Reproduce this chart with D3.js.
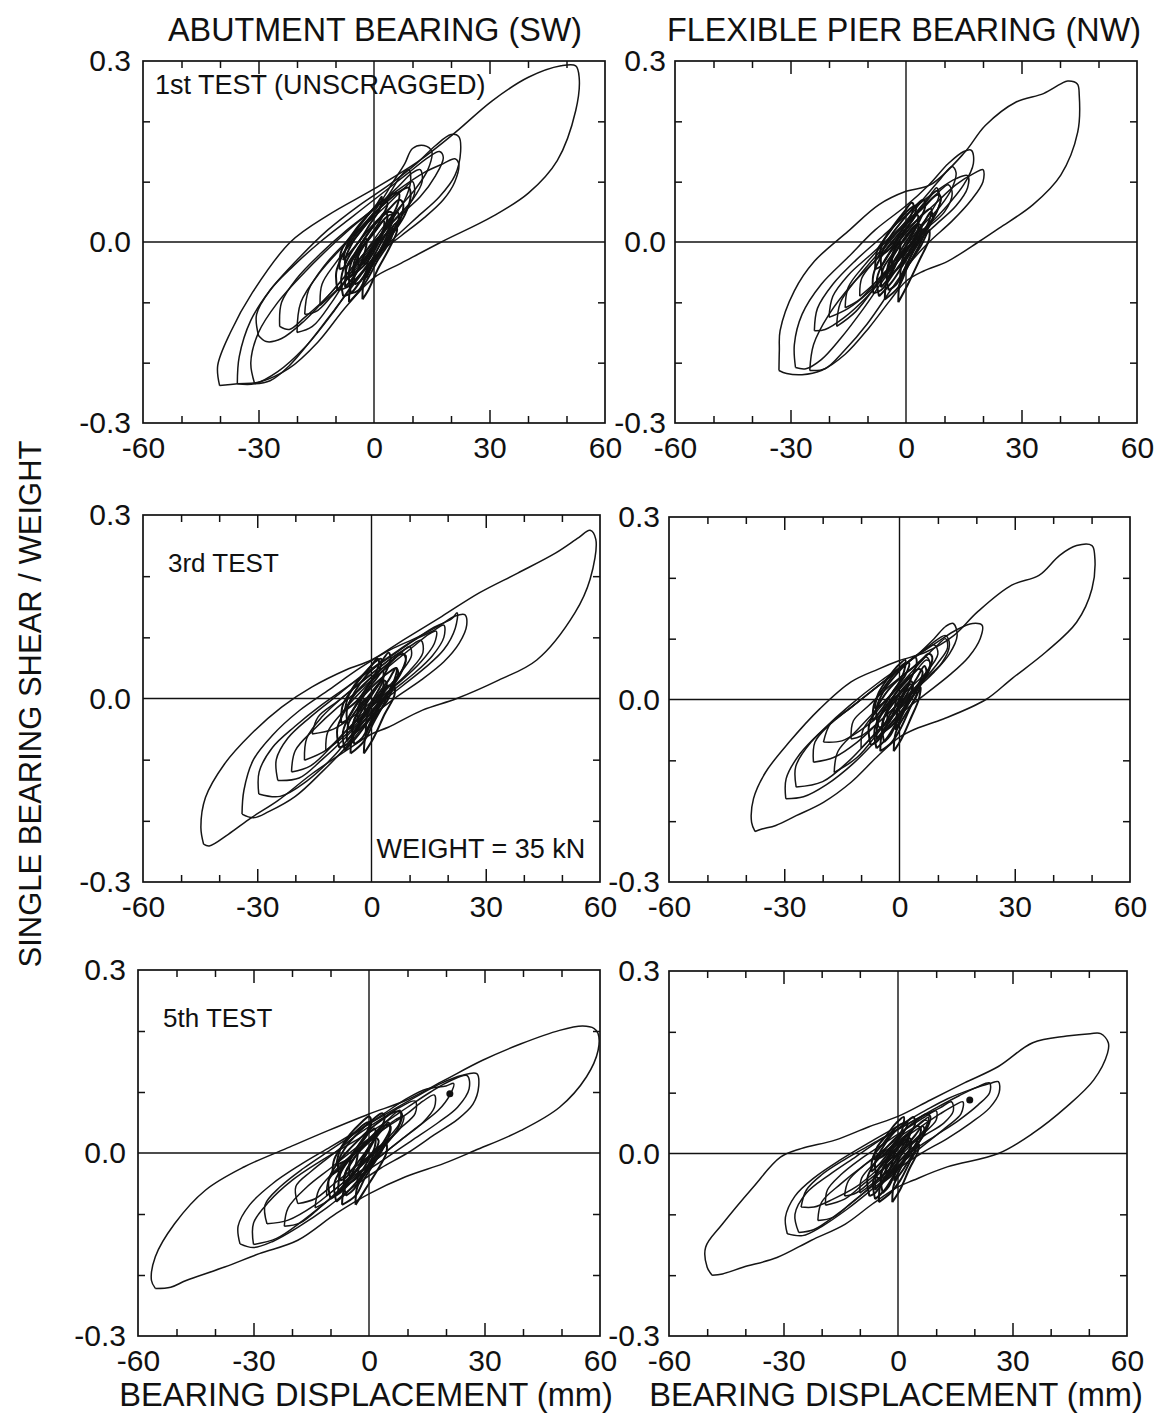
<!DOCTYPE html>
<html>
<head>
<meta charset="utf-8">
<script src="https://cdn.jsdelivr.net/npm/d3@7"></script>
<style>
  body { margin: 0; background: #fff; }
  svg { display: block; font-family: "Liberation Sans", Arial, Helvetica, sans-serif; }
  .tick text { font-size: 30px; fill: #111; }
  .loop { fill: none; stroke: #151515; stroke-width: 1.5; stroke-linejoin: round; }
  .core { fill: none; stroke: #111; stroke-width: 2; stroke-linejoin: round; }
</style>
</head>
<body>
<div id="chart"></div>
<script>
// ---- data (displacement in mm, shear / weight) ----

var xLabelTicks = [-60, -30, 0, 30, 60];
var xMinorTicks = [-50, -40, -20, -10, 10, 20, 40, 50];
var xMajorTicks = [-30, 30];
var yLabelTicks = [-0.3, 0, 0.3];
var yMinorTicks = [-0.2, -0.1, 0.1, 0.2];

var colTitles = ['ABUTMENT BEARING (SW)', 'FLEXIBLE PIER BEARING (NW)'];
var testNotes = ['1st TEST (UNSCRAGGED)', '3rd TEST', '5th TEST'];

// top left: 1st test, abutment
var tlOuter = [[-40.1,-0.238],[-40.6,-0.205],[-37.3,-0.15],[-31.6,-0.084],[-21.7,0],[-11.8,0.045],[0,0.088],[11.8,0.135],[21.2,0.182],[30.7,0.234],[40.1,0.273],[48.6,0.292],[52.4,0.292],[53.3,0.272],[52.4,0.218],[47.6,0.135],[40.1,0.081],[30.7,0.042],[17.5,0],[7.1,-0.035],[0,-0.059],[-7.1,-0.106],[-14.6,-0.166],[-22.2,-0.21],[-29.7,-0.232],[-35.4,-0.235],[-40.1,-0.238]];
var tlLoops = [
  [[-35.5,-0.235],[-35,-0.19],[-32,-0.13],[-27,-0.08],[-20,-0.03],[-12,0.02],[-4,0.06],[4,0.095],[11,0.13],[16,0.16],[20,0.178],[22,0.175],[22.5,0.15],[21,0.11],[17,0.075],[11,0.04],[5,0.005],[0,-0.025],[-5,-0.065],[-11,-0.12],[-18,-0.175],[-25,-0.215],[-31,-0.235],[-35.5,-0.235]],
  [[-31,-0.235],[-32,-0.2],[-30,-0.15],[-25,-0.1],[-18,-0.05],[-10,0.0],[-2,0.045],[6,0.085],[13,0.115],[18,0.13],[21,0.138],[22,0.13],[21,0.1],[18,0.07],[13,0.04],[7,0.01],[1,-0.02],[-4,-0.06],[-10,-0.11],[-16,-0.16],[-22,-0.205],[-27,-0.23],[-31,-0.235]],
  [[-30,-0.155],[-30.5,-0.12],[-27,-0.08],[-21,-0.04],[-14,0.0],[-6,0.04],[2,0.08],[9,0.115],[14,0.14],[17,0.15],[18,0.14],[16,0.11],[12,0.075],[6,0.04],[0,0.0],[-6,-0.045],[-12,-0.09],[-18,-0.13],[-24,-0.16],[-28,-0.165],[-30,-0.155]],
  [[-24.5,-0.14],[-24,-0.1],[-20,-0.06],[-14,-0.02],[-7,0.02],[0,0.055],[6,0.09],[10,0.115],[12,0.12],[12.5,0.1],[10,0.07],[5,0.035],[0,0.0],[-6,-0.045],[-12,-0.09],[-18,-0.125],[-22,-0.145],[-24.5,-0.14]],
  [[-18,-0.12],[-17,-0.08],[-13,-0.04],[-8,-0.005],[-2,0.03],[4,0.065],[8,0.09],[10,0.1],[10.5,0.08],[8,0.05],[4,0.02],[-1,-0.015],[-6,-0.055],[-11,-0.09],[-15,-0.115],[-18,-0.12]],
  [[-20,-0.15],[-19,-0.1],[-14,-0.05],[-7,0.0],[0,0.05],[5,0.1],[8,0.13],[10,0.155],[13,0.16],[15,0.15],[14,0.12],[11,0.09],[7,0.06],[3,0.03],[-1,-0.005],[-6,-0.05],[-11,-0.1],[-16,-0.14],[-20,-0.15]],
  [[-14,-0.105],[-13.5,-0.07],[-10,-0.035],[-5,0.005],[0,0.045],[4,0.08],[7,0.11],[9,0.12],[9.5,0.1],[8,0.07],[5,0.04],[1,0.005],[-4,-0.035],[-9,-0.075],[-14,-0.105]]
];
var tlCore = [
  [[-9.5,-0.08],[-9.8,-0.05],[-8,-0.02],[-5,0.01],[-1,0.04],[3,0.065],[7,0.085],[9,0.09],[9.5,0.075],[8,0.045],[5,0.015],[1,-0.02],[-3,-0.05],[-7,-0.075],[-9.5,-0.08]],
  [[-8,-0.09],[-8.5,-0.06],[-7,-0.03],[-4,0.0],[0,0.03],[4,0.055],[6.5,0.07],[7.5,0.065],[7,0.04],[4.5,0.01],[1,-0.025],[-3,-0.06],[-6,-0.085],[-8,-0.09]],
  [[-7,-0.06],[-7.5,-0.03],[-5.5,0.0],[-2,0.03],[2,0.06],[5,0.08],[6.5,0.08],[6,0.06],[3.5,0.03],[0,-0.005],[-3,-0.035],[-5.5,-0.055],[-7,-0.06]],
  [[-6,-0.085],[-6.5,-0.05],[-5,-0.02],[-2,0.01],[1,0.035],[4,0.05],[5,0.045],[4,0.02],[1.5,-0.015],[-1.5,-0.05],[-4,-0.08],[-6,-0.085]],
  [[-9,-0.045],[-8.5,-0.015],[-6,0.01],[-3,0.035],[0,0.055],[2.5,0.07],[3.5,0.065],[2,0.04],[-1,0.01],[-4,-0.015],[-7,-0.04],[-9,-0.045]],
  [[-5,-0.07],[-5,-0.04],[-3,-0.01],[0,0.015],[3,0.04],[4.5,0.045],[4,0.025],[1.5,-0.005],[-1,-0.035],[-3.5,-0.065],[-5,-0.07]],
  [[-4,-0.04],[-4,-0.015],[-2,0.01],[1,0.035],[3,0.05],[3.5,0.04],[2,0.015],[-0.5,-0.01],[-2.5,-0.035],[-4,-0.04]],
  [[-7.5,-0.075],[-7,-0.04],[-4.5,-0.015],[-2,0.005],[-2.5,-0.02],[-4.5,-0.05],[-7.5,-0.075]],
  [[-3,-0.095],[-2.5,-0.06],[0,-0.03],[3,0.0],[5.5,0.03],[6,0.02],[4,-0.01],[1,-0.045],[-1.5,-0.08],[-3,-0.095]],
  [[-6.5,-0.1],[-6,-0.07],[-3.5,-0.04],[0,-0.01],[3.5,0.015],[5,0.02],[4,0.0],[1,-0.03],[-2.5,-0.07],[-6.5,-0.1]],
  [[-8,-0.03],[-7,-0.005],[-4.5,0.02],[-1.5,0.045],[1,0.065],[2,0.075],[1.5,0.055],[-1,0.03],[-4,0.0],[-8,-0.03]],
  [[-5.5,-0.055],[-5,-0.03],[-2.5,-0.005],[0.5,0.02],[2.5,0.035],[2.5,0.02],[0.5,-0.01],[-2,-0.035],[-5.5,-0.055]],
  [[-2,-0.06],[-1.5,-0.03],[1,0.0],[4,0.03],[6,0.05],[6.5,0.04],[4.5,0.015],[1.5,-0.015],[-2,-0.06]]
];

// top right: 1st test, flexible pier
var trOuter = [[-33,-0.213],[-32.9,-0.18],[-32.7,-0.147],[-29,-0.081],[-23.8,-0.032],[-15,0.018],[-7,0.062],[0,0.084],[6.4,0.095],[15.3,0.149],[20.6,0.193],[28.6,0.232],[35.7,0.246],[40.2,0.262],[42,0.267],[44.5,0.262],[45,0.243],[44.6,0.182],[40.2,0.111],[33,0.062],[24.2,0.023],[18.8,0],[10.8,-0.032],[4.6,-0.048],[0,-0.065],[-4.3,-0.098],[-9.6,-0.142],[-15.8,-0.186],[-22,-0.213],[-27,-0.22],[-31,-0.218],[-33,-0.213]];
var trLoops = [
  [[-28.7,-0.208],[-29,-0.17],[-27,-0.12],[-22,-0.07],[-15,-0.025],[-8,0.02],[0,0.06],[6,0.095],[11,0.13],[15,0.15],[17,0.152],[17.5,0.13],[15,0.095],[10,0.055],[4,0.015],[0,-0.015],[-5,-0.055],[-11,-0.11],[-17,-0.16],[-22,-0.195],[-26,-0.21],[-28.7,-0.208]],
  [[-25,-0.213],[-24,-0.17],[-20,-0.12],[-14,-0.07],[-7,-0.025],[0,0.02],[7,0.06],[13,0.095],[18,0.115],[20,0.12],[20,0.1],[17,0.07],[12,0.035],[6,0.0],[1,-0.035],[-4,-0.08],[-10,-0.135],[-16,-0.18],[-21,-0.21],[-25,-0.213]],
  [[-23.8,-0.147],[-23,-0.11],[-19,-0.07],[-13,-0.03],[-6,0.01],[1,0.05],[8,0.085],[13,0.105],[16,0.11],[16,0.09],[13,0.06],[8,0.03],[2,-0.005],[-4,-0.045],[-10,-0.09],[-16,-0.125],[-21,-0.145],[-23.8,-0.147]],
  [[-20,-0.125],[-19,-0.09],[-15,-0.055],[-9,-0.02],[-3,0.015],[3,0.05],[8,0.08],[11,0.095],[12,0.08],[10,0.05],[5,0.02],[0,-0.015],[-5,-0.05],[-10,-0.085],[-15,-0.11],[-20,-0.125]],
  [[-15.8,-0.109],[-15,-0.075],[-11,-0.04],[-6,-0.005],[0,0.03],[5,0.065],[8,0.085],[9,0.07],[7,0.04],[3,0.01],[-2,-0.025],[-7,-0.06],[-12,-0.095],[-15.8,-0.109]],
  [[-18,-0.14],[-17,-0.1],[-12,-0.055],[-6,-0.01],[0,0.035],[5,0.075],[9,0.105],[12,0.125],[13,0.115],[12,0.09],[9,0.06],[4,0.025],[-1,-0.015],[-7,-0.065],[-13,-0.115],[-18,-0.14]],
  [[-12,-0.09],[-11.5,-0.06],[-8,-0.03],[-3,0.01],[2,0.045],[6,0.075],[8,0.09],[8.5,0.075],[6.5,0.05],[3,0.02],[-1,-0.015],[-6,-0.055],[-12,-0.09]]
];
var trCore = [
  [[-8.5,-0.085],[-8.5,-0.055],[-6.5,-0.025],[-3,0.005],[1,0.035],[5,0.06],[8,0.078],[9,0.075],[8,0.05],[5,0.02],[1,-0.015],[-3,-0.05],[-6.5,-0.08],[-8.5,-0.085]],
  [[-7,-0.09],[-7.5,-0.06],[-5.5,-0.03],[-2,0.0],[2,0.03],[5,0.05],[6.5,0.055],[6,0.035],[3.5,0.005],[0,-0.03],[-3.5,-0.065],[-7,-0.09]],
  [[-6,-0.055],[-6.5,-0.025],[-4.5,0.005],[-1,0.035],[2.5,0.06],[4.5,0.07],[5,0.06],[3.5,0.035],[0.5,0.005],[-2.5,-0.025],[-5,-0.05],[-6,-0.055]],
  [[-4.5,-0.08],[-5,-0.05],[-3,-0.02],[0,0.01],[3,0.03],[4,0.025],[2.5,-0.005],[0,-0.04],[-2.5,-0.07],[-4.5,-0.08]],
  [[-8,-0.045],[-7.5,-0.015],[-5,0.01],[-2,0.035],[1,0.055],[2.5,0.06],[2,0.04],[-1,0.015],[-4,-0.015],[-6.5,-0.04],[-8,-0.045]],
  [[-3.5,-0.045],[-3.5,-0.02],[-1.5,0.005],[1,0.03],[3,0.045],[3,0.03],[1,0.005],[-1.5,-0.025],[-3.5,-0.045]],
  [[-2,-0.1],[-1.5,-0.065],[1,-0.035],[4,-0.005],[6,0.02],[6,0.005],[3.5,-0.03],[0.5,-0.07],[-2,-0.1]],
  [[-6.5,-0.075],[-6,-0.045],[-3.5,-0.02],[-1.5,0.0],[-2,-0.025],[-4,-0.055],[-6.5,-0.075]],
  [[-5.5,-0.095],[-5,-0.065],[-2.5,-0.035],[1,-0.005],[4,0.02],[5,0.02],[3.5,-0.005],[0.5,-0.04],[-2,-0.075],[-5.5,-0.095]],
  [[-7,-0.025],[-6,0.0],[-3.5,0.025],[-0.5,0.05],[1.5,0.065],[2,0.06],[1,0.04],[-1.5,0.015],[-4,-0.01],[-7,-0.025]],
  [[-5,-0.06],[-4.5,-0.035],[-2,-0.01],[1,0.015],[3,0.03],[3,0.015],[1,-0.015],[-1.5,-0.04],[-5,-0.06]],
  [[-1.5,-0.06],[-1,-0.03],[1.5,0.0],[4.5,0.03],[6.5,0.05],[7,0.04],[5,0.015],[2,-0.015],[-1.5,-0.06]]
];

// middle left: 3rd test, abutment
var mlOuter = [[-44.1,-0.238],[-44.8,-0.211],[-43.6,-0.162],[-38.6,-0.107],[-31.6,-0.058],[-23.6,-0.014],[-15.6,0.019],[-6.6,0.047],[0,0.063],[8.4,0.096],[18.4,0.134],[28.4,0.173],[38.4,0.205],[48.4,0.238],[54.4,0.263],[57.4,0.275],[58.9,0.26],[57.4,0.195],[53.4,0.14],[43.4,0.063],[33.4,0.03],[22.4,0],[13.4,-0.019],[4.4,-0.047],[0,-0.058],[-6.6,-0.085],[-15.6,-0.123],[-24.6,-0.167],[-31.6,-0.195],[-37.6,-0.222],[-42.6,-0.241],[-44.1,-0.238]];
var mlLoops = [
  [[-34,-0.189],[-33.5,-0.15],[-31,-0.1],[-26,-0.06],[-19,-0.02],[-11,0.015],[-3,0.05],[5,0.08],[12,0.1],[18,0.12],[22,0.135],[24.5,0.137],[25,0.12],[23,0.09],[19,0.06],[13,0.03],[6,0.0],[0,-0.03],[-6,-0.075],[-13,-0.12],[-20,-0.16],[-27,-0.185],[-31,-0.195],[-34,-0.189]],
  [[-29.6,-0.156],[-29.5,-0.12],[-26,-0.08],[-20,-0.045],[-13,-0.01],[-5,0.025],[3,0.06],[10,0.09],[16,0.115],[21,0.13],[22.5,0.14],[22,0.115],[19,0.08],[14,0.05],[8,0.02],[2,-0.01],[-4,-0.05],[-10,-0.095],[-17,-0.135],[-24,-0.16],[-29.6,-0.156]],
  [[-24.6,-0.134],[-25,-0.1],[-22,-0.065],[-16,-0.03],[-9,0.005],[-2,0.04],[5,0.07],[11,0.095],[16,0.11],[19,0.12],[19,0.1],[16,0.07],[11,0.04],[5,0.01],[-1,-0.025],[-7,-0.065],[-13,-0.1],[-19,-0.13],[-24.6,-0.134]],
  [[-17.6,-0.101],[-17,-0.065],[-13,-0.03],[-7,0.005],[-1,0.035],[5,0.065],[10,0.085],[13,0.095],[13.5,0.075],[10,0.045],[5,0.015],[-1,-0.02],[-7,-0.055],[-12,-0.085],[-17.6,-0.101]],
  [[-15.6,-0.058],[-14,-0.03],[-9,-0.005],[-3,0.025],[3,0.055],[8,0.075],[9,0.06],[6,0.03],[1,0.0],[-5,-0.03],[-10,-0.05],[-15.6,-0.058]],
  [[-21,-0.12],[-20,-0.085],[-15,-0.05],[-9,-0.015],[-2,0.02],[5,0.055],[11,0.085],[15,0.105],[17,0.11],[16.5,0.09],[13,0.06],[8,0.03],[2,0.0],[-4,-0.035],[-10,-0.075],[-16,-0.11],[-21,-0.12]],
  [[-12,-0.085],[-11.5,-0.055],[-8,-0.025],[-3,0.01],[2,0.04],[7,0.07],[10,0.085],[10.5,0.07],[8,0.045],[4,0.015],[-1,-0.02],[-6,-0.055],[-12,-0.085]]
];
var mlCore = [
  [[-8.5,-0.08],[-9,-0.05],[-7,-0.02],[-4,0.01],[0,0.035],[4,0.055],[7.5,0.072],[9,0.07],[8,0.045],[5,0.015],[1,-0.015],[-3,-0.045],[-6.5,-0.075],[-8.5,-0.08]],
  [[-7,-0.085],[-7.5,-0.055],[-5.5,-0.025],[-2,0.005],[2,0.03],[5,0.045],[6.5,0.05],[6,0.03],[3.5,0.0],[0,-0.03],[-3.5,-0.06],[-7,-0.085]],
  [[-6,-0.05],[-6.5,-0.02],[-4.5,0.01],[-1,0.04],[2.5,0.06],[4.5,0.075],[5,0.065],[3.5,0.04],[0.5,0.01],[-2.5,-0.02],[-5,-0.045],[-6,-0.05]],
  [[-4.5,-0.075],[-5,-0.045],[-3,-0.015],[0,0.01],[3,0.03],[4,0.025],[2.5,0.0],[0,-0.035],[-2.5,-0.065],[-4.5,-0.075]],
  [[-8,-0.04],[-7.5,-0.01],[-5,0.015],[-2,0.04],[1,0.06],[2.5,0.065],[2,0.045],[-1,0.02],[-4,-0.01],[-6.5,-0.035],[-8,-0.04]],
  [[-3.5,-0.04],[-3.5,-0.015],[-1.5,0.01],[1,0.03],[3,0.045],[3,0.03],[1,0.005],[-1.5,-0.02],[-3.5,-0.04]],
  [[-2,-0.09],[-1.5,-0.06],[1,-0.03],[4,-0.005],[6,0.02],[6,0.005],[3.5,-0.025],[0.5,-0.065],[-2,-0.09]],
  [[-6.5,-0.07],[-6,-0.04],[-3.5,-0.015],[-1.5,0.0],[-2,-0.025],[-4,-0.05],[-6.5,-0.07]],
  [[-5.5,-0.09],[-5,-0.06],[-2.5,-0.035],[1,-0.005],[4,0.02],[5,0.02],[3.5,-0.005],[0.5,-0.04],[-2,-0.07],[-5.5,-0.09]],
  [[-7,-0.02],[-6,0.005],[-3.5,0.03],[-0.5,0.05],[1.5,0.065],[2,0.06],[1,0.04],[-1.5,0.015],[-4,-0.005],[-7,-0.02]],
  [[-5,-0.06],[-4.5,-0.035],[-2,-0.01],[1,0.015],[3,0.03],[3,0.015],[1,-0.015],[-1.5,-0.04],[-5,-0.06]],
  [[-1.5,-0.055],[-1,-0.025],[1.5,0.005],[4.5,0.03],[6.5,0.05],[7,0.04],[5,0.015],[2,-0.015],[-1.5,-0.055]]
];

// middle right: 3rd test, flexible pier
var mrOuter = [[-37.6,-0.217],[-38.5,-0.202],[-38,-0.163],[-34.9,-0.12],[-28.7,-0.07],[-20.7,-0.015],[-12.6,0.029],[-5.5,0.05],[0,0.064],[6.9,0.078],[14.1,0.105],[20.3,0.144],[29.2,0.188],[36.3,0.204],[41.7,0.237],[46.1,0.253],[50.1,0.253],[50.8,0.237],[50.1,0.182],[46.1,0.127],[38.1,0.078],[29.2,0.034],[22.5,0],[11.4,-0.032],[4.3,-0.048],[0,-0.062],[-5.5,-0.092],[-12.6,-0.136],[-19.8,-0.169],[-26.9,-0.191],[-32.2,-0.207],[-35.8,-0.213],[-37.6,-0.217]];
var mrLoops = [
  [[-29.6,-0.163],[-29.5,-0.13],[-26,-0.09],[-20,-0.05],[-13,-0.01],[-5,0.03],[3,0.065],[10,0.095],[15,0.115],[19,0.125],[21.5,0.122],[21,0.1],[18,0.07],[13,0.04],[7,0.01],[1,-0.02],[-5,-0.06],[-12,-0.105],[-19,-0.14],[-25,-0.16],[-29.6,-0.163]],
  [[-26.9,-0.144],[-27,-0.11],[-23,-0.07],[-17,-0.035],[-10,0.0],[-3,0.035],[4,0.07],[9,0.1],[12,0.12],[14,0.125],[15,0.105],[13,0.075],[9,0.045],[4,0.015],[-1,-0.02],[-7,-0.06],[-13,-0.1],[-20,-0.135],[-26.9,-0.144]],
  [[-22.4,-0.103],[-22,-0.07],[-18,-0.04],[-12,-0.01],[-5,0.025],[2,0.06],[8,0.09],[12,0.105],[13,0.09],[11,0.06],[6,0.03],[1,0.0],[-5,-0.035],[-11,-0.07],[-17,-0.095],[-22.4,-0.103]],
  [[-19.8,-0.07],[-18,-0.04],[-13,-0.015],[-7,0.015],[-1,0.045],[5,0.075],[9,0.09],[10,0.075],[7,0.045],[2,0.015],[-4,-0.02],[-10,-0.05],[-15,-0.068],[-19.8,-0.07]],
  [[-12.6,-0.065],[-12,-0.035],[-8,-0.01],[-3,0.02],[3,0.05],[7,0.07],[8,0.055],[5,0.025],[0,-0.005],[-5,-0.035],[-10,-0.06],[-12.6,-0.065]],
  [[-17,-0.12],[-16,-0.085],[-11,-0.05],[-5,-0.01],[1,0.03],[6,0.065],[10,0.09],[12,0.1],[12.5,0.085],[10,0.06],[6,0.03],[1,-0.005],[-5,-0.05],[-11,-0.095],[-17,-0.12]],
  [[-10,-0.08],[-9.5,-0.05],[-6,-0.02],[-1,0.015],[4,0.045],[7,0.065],[8,0.06],[6,0.035],[2,0.005],[-3,-0.035],[-10,-0.08]]
];
var mrCore = [
  [[-7.5,-0.075],[-8,-0.045],[-6,-0.015],[-3,0.015],[1,0.04],[5,0.06],[7.5,0.075],[8.5,0.07],[7.5,0.045],[4.5,0.015],[1,-0.015],[-3,-0.045],[-6,-0.07],[-7.5,-0.075]],
  [[-6,-0.08],[-6.5,-0.05],[-4.5,-0.02],[-1,0.01],[2.5,0.035],[5,0.05],[6,0.045],[5,0.025],[2.5,-0.005],[-0.5,-0.035],[-3.5,-0.065],[-6,-0.08]],
  [[-5.5,-0.045],[-6,-0.015],[-4,0.015],[-1,0.04],[2,0.06],[4,0.07],[4.5,0.06],[3,0.035],[0.5,0.005],[-2.5,-0.025],[-4.5,-0.045],[-5.5,-0.045]],
  [[-4,-0.07],[-4.5,-0.04],[-2.5,-0.01],[0.5,0.015],[3,0.03],[3.5,0.02],[2,-0.005],[-0.5,-0.035],[-2.5,-0.06],[-4,-0.07]],
  [[-7,-0.035],[-6.5,-0.005],[-4,0.02],[-1,0.045],[1.5,0.06],[2.5,0.06],[1.5,0.04],[-1.5,0.015],[-4.5,-0.015],[-7,-0.035]],
  [[-3,-0.04],[-3,-0.015],[-1,0.01],[1.5,0.03],[3,0.04],[2.5,0.025],[0.5,0.0],[-1.5,-0.025],[-3,-0.04]],
  [[-1.5,-0.085],[-1,-0.055],[1.5,-0.025],[4,0.0],[5.5,0.02],[5,0.0],[3,-0.03],[0.5,-0.065],[-1.5,-0.085]],
  [[-6,-0.065],[-5.5,-0.035],[-3,-0.01],[-1,0.005],[-1.5,-0.02],[-3.5,-0.045],[-6,-0.065]],
  [[-5,-0.085],[-4.5,-0.055],[-2,-0.03],[1.5,-0.005],[4,0.015],[4.5,0.01],[3,-0.01],[0.5,-0.045],[-2,-0.07],[-5,-0.085]],
  [[-6.5,-0.015],[-5.5,0.01],[-3,0.035],[-0.5,0.055],[1.5,0.065],[1.5,0.055],[0.5,0.035],[-2,0.01],[-4,-0.005],[-6.5,-0.015]],
  [[-4.5,-0.055],[-4,-0.03],[-1.5,-0.005],[1,0.015],[3,0.025],[3,0.01],[1,-0.015],[-1.5,-0.04],[-4.5,-0.055]],
  [[-1,-0.05],[-0.5,-0.02],[2,0.01],[4.5,0.035],[6.5,0.055],[7,0.045],[5,0.02],[2,-0.01],[-1,-0.05]]
];

// bottom left: 5th test, abutment
var blOuter = [[-55.5,-0.222],[-56.5,-0.209],[-55.5,-0.17],[-50.5,-0.116],[-42.5,-0.061],[-32.5,-0.023],[-20.5,0.01],[-10.5,0.037],[0,0.064],[9.5,0.086],[19.5,0.119],[29.5,0.152],[39.5,0.179],[49.5,0.201],[55.5,0.208],[58.5,0.204],[59.5,0.196],[59.5,0.168],[56.5,0.125],[49.5,0.075],[39.5,0.037],[27.5,0.004],[19.5,-0.017],[9.5,-0.039],[0,-0.067],[-8.5,-0.099],[-18.5,-0.143],[-28.5,-0.165],[-37.5,-0.187],[-47.5,-0.209],[-51.5,-0.22],[-55.5,-0.222]];
var blLoops = [
  [[-33.5,-0.149],[-34,-0.12],[-31,-0.085],[-25,-0.05],[-18,-0.02],[-10,0.01],[-2,0.04],[6,0.07],[13,0.095],[19,0.115],[24,0.127],[28,0.13],[28.5,0.11],[27,0.08],[23,0.055],[17,0.03],[10,0.0],[3,-0.025],[-4,-0.055],[-11,-0.09],[-18,-0.12],[-25,-0.145],[-30,-0.155],[-33.5,-0.149]],
  [[-30,-0.15],[-30,-0.115],[-26,-0.08],[-20,-0.045],[-13,-0.015],[-5,0.015],[3,0.045],[10,0.075],[16,0.1],[21,0.118],[25.5,0.127],[26,0.105],[23,0.075],[18,0.05],[11,0.02],[4,-0.01],[-3,-0.04],[-10,-0.075],[-17,-0.11],[-24,-0.14],[-30,-0.15]],
  [[-26.5,-0.116],[-27,-0.085],[-23,-0.055],[-17,-0.025],[-10,0.005],[-3,0.035],[4,0.065],[10,0.09],[15,0.105],[20,0.11],[22,0.114],[21,0.095],[18,0.07],[12,0.04],[6,0.01],[0,-0.02],[-7,-0.05],[-14,-0.085],[-21,-0.11],[-26.5,-0.116]],
  [[-18.5,-0.083],[-19,-0.055],[-15,-0.03],[-9,0.0],[-3,0.03],[3,0.055],[8,0.075],[12,0.085],[12,0.065],[8,0.04],[3,0.01],[-3,-0.02],[-9,-0.05],[-14,-0.075],[-18.5,-0.083]],
  [[-14,-0.09],[-13,-0.06],[-9,-0.03],[-4,0.0],[1,0.03],[5,0.055],[8,0.07],[8,0.05],[5,0.025],[0,-0.005],[-5,-0.04],[-10,-0.075],[-14,-0.09]],
  [[-22,-0.12],[-21,-0.09],[-16,-0.055],[-10,-0.025],[-3,0.01],[4,0.04],[10,0.065],[14,0.085],[17,0.095],[17,0.075],[14,0.05],[8,0.02],[2,-0.01],[-5,-0.045],[-12,-0.085],[-18,-0.115],[-22,-0.12]],
  [[-11,-0.07],[-10.5,-0.045],[-7,-0.02],[-2,0.01],[3,0.035],[7,0.055],[9,0.06],[8,0.04],[4,0.015],[-1,-0.015],[-6,-0.045],[-11,-0.07]]
];
var blCore = [
  [[-10,-0.075],[-10.5,-0.045],[-8,-0.015],[-4.5,0.01],[-0.5,0.035],[3.5,0.055],[7,0.068],[8.5,0.065],[7.5,0.04],[4.5,0.015],[0.5,-0.015],[-3.5,-0.04],[-7.5,-0.065],[-10,-0.075]],
  [[-8.5,-0.08],[-9,-0.05],[-7,-0.025],[-3.5,0.0],[0.5,0.025],[4,0.045],[5.5,0.045],[5,0.025],[2.5,0.0],[-1,-0.03],[-5,-0.06],[-8.5,-0.08]],
  [[-7.5,-0.045],[-8,-0.015],[-6,0.01],[-2.5,0.035],[1,0.055],[3.5,0.065],[4,0.055],[2.5,0.035],[-0.5,0.005],[-3.5,-0.02],[-6,-0.04],[-7.5,-0.045]],
  [[-6,-0.07],[-6.5,-0.04],[-4.5,-0.015],[-1.5,0.01],[1.5,0.025],[2.5,0.02],[1,-0.005],[-1.5,-0.035],[-4,-0.06],[-6,-0.07]],
  [[-9.5,-0.035],[-9,-0.01],[-6.5,0.015],[-3.5,0.035],[-0.5,0.05],[0.5,0.05],[-0.5,0.03],[-3.5,0.005],[-6.5,-0.02],[-9.5,-0.035]],
  [[-5,-0.04],[-5,-0.015],[-3,0.01],[-0.5,0.03],[1.5,0.04],[1.5,0.025],[-0.5,0.0],[-3,-0.025],[-5,-0.04]],
  [[-3.5,-0.085],[-3,-0.055],[-0.5,-0.03],[2.5,-0.005],[4.5,0.015],[4.5,0.0],[2,-0.03],[-1,-0.06],[-3.5,-0.085]],
  [[-8,-0.065],[-7.5,-0.035],[-5,-0.01],[-3,0.005],[-3.5,-0.02],[-5.5,-0.045],[-8,-0.065]],
  [[-7,-0.085],[-6.5,-0.06],[-4,-0.035],[-0.5,-0.01],[2.5,0.01],[3.5,0.01],[2,-0.01],[-1,-0.04],[-3.5,-0.07],[-7,-0.085]],
  [[-8.5,-0.02],[-7.5,0.005],[-5,0.03],[-2,0.05],[0,0.06],[0.5,0.055],[-0.5,0.035],[-3,0.01],[-5.5,-0.01],[-8.5,-0.02]],
  [[-6.5,-0.055],[-6,-0.03],[-3.5,-0.005],[-0.5,0.015],[1.5,0.025],[1.5,0.01],[-0.5,-0.015],[-3,-0.04],[-6.5,-0.055]],
  [[-3,-0.05],[-2.5,-0.02],[0,0.01],[3,0.035],[5,0.05],[5.5,0.04],[3.5,0.015],[0.5,-0.015],[-3,-0.05]]
];
var blMarks = [[21,0.097]];

// bottom right: 5th test, flexible pier
var brOuter = [[-48.7,-0.2],[-50,-0.187],[-50.4,-0.154],[-46,-0.116],[-37.9,-0.055],[-30.8,-0.006],[-25.4,0.008],[-16.5,0.022],[-7.6,0.044],[0,0.061],[8.5,0.088],[17.4,0.116],[26.3,0.143],[35.3,0.182],[44.2,0.193],[50.4,0.197],[53.1,0.197],[55.1,0.182],[54.9,0.165],[51.3,0.121],[44.2,0.077],[35.3,0.033],[26.3,0],[12.9,-0.022],[4,-0.044],[0,-0.055],[-6.7,-0.083],[-13.8,-0.116],[-22.8,-0.143],[-31.7,-0.171],[-40.6,-0.187],[-46,-0.198],[-48.7,-0.2]];
var brLoops = [
  [[-29,-0.132],[-29.5,-0.105],[-27,-0.07],[-22,-0.04],[-15,-0.01],[-7,0.02],[0,0.045],[7,0.07],[13,0.09],[19,0.105],[24,0.115],[26.3,0.118],[26.5,0.1],[24,0.075],[19,0.05],[13,0.025],[6,0.0],[0,-0.025],[-6,-0.055],[-13,-0.09],[-20,-0.12],[-25,-0.135],[-29,-0.132]],
  [[-26,-0.13],[-27,-0.1],[-24,-0.065],[-18,-0.035],[-11,-0.005],[-4,0.025],[3,0.05],[10,0.075],[16,0.095],[21,0.11],[24,0.116],[24,0.1],[21,0.08],[16,0.055],[10,0.03],[4,0.005],[-2,-0.025],[-9,-0.065],[-16,-0.1],[-22,-0.125],[-26,-0.13]],
  [[-25.4,-0.088],[-24,-0.06],[-20,-0.035],[-14,-0.01],[-7,0.015],[0,0.04],[6,0.06],[11,0.075],[14,0.085],[14.5,0.07],[12,0.05],[7,0.03],[1,0.005],[-5,-0.025],[-11,-0.055],[-17,-0.075],[-22,-0.088],[-25.4,-0.088]],
  [[-19,-0.085],[-18.5,-0.06],[-15,-0.035],[-10,-0.01],[-4,0.015],[2,0.04],[7,0.06],[10,0.07],[10,0.055],[7,0.035],[2,0.01],[-3,-0.02],[-9,-0.05],[-14,-0.075],[-19,-0.085]],
  [[-14,-0.07],[-13,-0.045],[-9,-0.02],[-4,0.005],[1,0.03],[6,0.05],[8,0.06],[7,0.04],[3,0.015],[-2,-0.015],[-7,-0.045],[-11,-0.065],[-14,-0.07]],
  [[-21,-0.11],[-20,-0.08],[-15,-0.05],[-9,-0.02],[-2,0.01],[5,0.04],[11,0.065],[15,0.08],[17,0.085],[16.5,0.065],[13,0.045],[8,0.02],[2,-0.01],[-5,-0.045],[-12,-0.08],[-17,-0.105],[-21,-0.11]],
  [[-10,-0.065],[-9.5,-0.04],[-6,-0.015],[-1,0.015],[4,0.04],[7,0.055],[8,0.05],[6,0.03],[2,0.005],[-3,-0.03],[-10,-0.065]]
];
var brCore = [
  [[-7.5,-0.07],[-8,-0.04],[-6,-0.015],[-3,0.01],[1,0.035],[5,0.055],[7.5,0.065],[8.5,0.06],[7.5,0.04],[4.5,0.01],[1,-0.015],[-3,-0.04],[-6,-0.065],[-7.5,-0.07]],
  [[-6,-0.075],[-6.5,-0.045],[-4.5,-0.02],[-1,0.005],[2.5,0.03],[5,0.045],[6,0.04],[5,0.02],[2.5,-0.005],[-0.5,-0.03],[-3.5,-0.06],[-6,-0.075]],
  [[-5.5,-0.04],[-6,-0.015],[-4,0.01],[-1,0.035],[2,0.05],[4,0.06],[4.5,0.05],[3,0.03],[0.5,0.005],[-2.5,-0.02],[-4.5,-0.04],[-5.5,-0.04]],
  [[-4,-0.065],[-4.5,-0.035],[-2.5,-0.01],[0.5,0.015],[3,0.025],[3.5,0.015],[2,-0.005],[-0.5,-0.03],[-2.5,-0.055],[-4,-0.065]],
  [[-7,-0.03],[-6.5,-0.005],[-4,0.015],[-1,0.04],[1.5,0.05],[2.5,0.05],[1.5,0.035],[-1.5,0.01],[-4.5,-0.015],[-7,-0.03]],
  [[-3,-0.035],[-3,-0.01],[-1,0.01],[1.5,0.025],[3,0.035],[2.5,0.02],[0.5,0.0],[-1.5,-0.02],[-3,-0.035]],
  [[-1.5,-0.08],[-1,-0.05],[1.5,-0.025],[4,0.0],[5.5,0.015],[5,0.0],[3,-0.025],[0.5,-0.06],[-1.5,-0.08]],
  [[-6,-0.06],[-5.5,-0.03],[-3,-0.01],[-1,0.005],[-1.5,-0.015],[-3.5,-0.04],[-6,-0.06]],
  [[-5,-0.08],[-4.5,-0.05],[-2,-0.03],[1.5,-0.005],[4,0.01],[4.5,0.005],[3,-0.015],[0.5,-0.045],[-2,-0.065],[-5,-0.08]],
  [[-6.5,-0.01],[-5.5,0.01],[-3,0.03],[-0.5,0.05],[1.5,0.06],[1.5,0.05],[0.5,0.03],[-2,0.01],[-4,-0.005],[-6.5,-0.01]],
  [[-4.5,-0.05],[-4,-0.025],[-1.5,-0.005],[1,0.015],[3,0.02],[3,0.005],[1,-0.015],[-1.5,-0.035],[-4.5,-0.05]],
  [[-1,-0.045],[-0.5,-0.02],[2,0.01],[4.5,0.03],[6.5,0.045],[7,0.035],[5,0.015],[2,-0.01],[-1,-0.045]]
];
var brMarks = [[18.8,0.088]];

// ---- layout ----

var width = 1155;
var height = 1418;

var svg = d3.select('#chart')
    .append('svg')
    .attr('width', width)
    .attr('height', height);

svg.append('rect')
    .attr('width', width)
    .attr('height', height)
    .attr('fill', '#fff');

// each panel frame as scanned (slightly uneven)
var panels = [
    { col: 0, left: 143, right: 605, top: 61, bottom: 423, outer: tlOuter, loops: tlLoops, core: tlCore, marks: [], note: 0 },
    { col: 1, left: 675, right: 1137, top: 61, bottom: 423, outer: trOuter, loops: trLoops, core: trCore, marks: [] },
    { col: 0, left: 143, right: 600, top: 515, bottom: 882, outer: mlOuter, loops: mlLoops, core: mlCore, marks: [], note: 1, weight: true },
    { col: 1, left: 669, right: 1130, top: 517, bottom: 882, outer: mrOuter, loops: mrLoops, core: mrCore, marks: [] },
    { col: 0, left: 138, right: 600, top: 970, bottom: 1336, outer: blOuter, loops: blLoops, core: blCore, marks: blMarks, note: 2 },
    { col: 1, left: 669, right: 1127, top: 971, bottom: 1336, outer: brOuter, loops: brLoops, core: brCore, marks: brMarks }
];

function noDomain(g) {
    g.select('.domain').remove();
}

panels.forEach(function(p) {

    var x_scale = d3.scaleLinear()
        .domain([-60, 60])
        .range([p.left, p.right]);

    var y_scale = d3.scaleLinear()
        .domain([-0.3, 0.3])
        .range([p.bottom, p.top]);

    var g = svg.append('g');

    // zero lines
    g.append('line')
        .attr('x1', x_scale(-60)).attr('x2', x_scale(60))
        .attr('y1', y_scale(0)).attr('y2', y_scale(0))
        .attr('stroke', '#111').attr('stroke-width', 1.4);
    g.append('line')
        .attr('x1', x_scale(0)).attr('x2', x_scale(0))
        .attr('y1', y_scale(-0.3)).attr('y2', y_scale(0.3))
        .attr('stroke', '#111').attr('stroke-width', 1.4);

    // inside ticks, all four sides
    g.append('g')
        .attr('transform', 'translate(0,' + p.bottom + ')')
        .call(d3.axisBottom(x_scale).tickValues(xMinorTicks).tickSize(-7).tickFormat(''))
        .call(noDomain);
    g.append('g')
        .attr('transform', 'translate(0,' + p.bottom + ')')
        .call(d3.axisBottom(x_scale).tickValues(xMajorTicks).tickSize(-13).tickFormat(''))
        .call(noDomain);
    g.append('g')
        .attr('transform', 'translate(0,' + p.top + ')')
        .call(d3.axisTop(x_scale).tickValues(xMinorTicks).tickSize(-7).tickFormat(''))
        .call(noDomain);
    g.append('g')
        .attr('transform', 'translate(0,' + p.top + ')')
        .call(d3.axisTop(x_scale).tickValues(xMajorTicks).tickSize(-13).tickFormat(''))
        .call(noDomain);
    g.append('g')
        .attr('transform', 'translate(' + p.left + ',0)')
        .call(d3.axisLeft(y_scale).tickValues(yMinorTicks).tickSize(-7).tickFormat(''))
        .call(noDomain);
    g.append('g')
        .attr('transform', 'translate(' + p.right + ',0)')
        .call(d3.axisRight(y_scale).tickValues(yMinorTicks).tickSize(-7).tickFormat(''))
        .call(noDomain);

    g.selectAll('.tick line')
        .attr('stroke', '#111')
        .attr('stroke-width', 1.5);

    // tick labels
    g.append('g')
        .attr('transform', 'translate(0,' + p.bottom + ')')
        .call(d3.axisBottom(x_scale).tickValues(xLabelTicks).tickSize(0).tickPadding(14)
            .tickFormat(function(d) { return String(d); }))
        .call(noDomain);
    g.append('g')
        .attr('transform', 'translate(' + p.left + ',0)')
        .call(d3.axisLeft(y_scale).tickValues(yLabelTicks).tickSize(0)
            .tickPadding(p.col === 0 ? 12 : 9)
            .tickFormat(function(d) { return d.toFixed(1); }))
        .call(noDomain);

    // frame
    g.append('rect')
        .attr('x', p.left)
        .attr('y', p.top)
        .attr('width', p.right - p.left)
        .attr('height', p.bottom - p.top)
        .attr('fill', 'none')
        .attr('stroke', '#111')
        .attr('stroke-width', 1.7);

    var line = d3.line()
        .x(function(d) { return x_scale(d[0]); })
        .y(function(d) { return y_scale(d[1]); })
        .curve(d3.curveCatmullRom.alpha(0.5));

    g.selectAll('.loop')
        .data([p.outer].concat(p.loops))
        .enter()
        .append('path')
        .attr('class', 'loop')
        .attr('d', line);

    g.selectAll('.core')
        .data(p.core)
        .enter()
        .append('path')
        .attr('class', 'core')
        .attr('d', line);

    g.selectAll('.mark')
        .data(p.marks)
        .enter()
        .append('circle')
        .attr('class', 'mark')
        .attr('cx', function(d) { return x_scale(d[0]); })
        .attr('cy', function(d) { return y_scale(d[1]); })
        .attr('r', 3.5)
        .attr('fill', '#111');

    if (p.note !== undefined) {
        g.append('text')
            .attr('x', p.note === 0 ? p.left + 12 : p.left + 25)
            .attr('y', p.note === 0 ? p.top + 33 : p.top + 57)
            .attr('font-size', p.note === 0 ? 27 : 26)
            .attr('fill', '#111')
            .text(testNotes[p.note]);
    }

    if (p.weight) {
        g.append('text')
            .attr('x', x_scale(0) + 5)
            .attr('y', p.bottom - 24)
            .attr('font-size', 27)
            .attr('fill', '#111')
            .text('WEIGHT = 35 kN');
    }
});

// column titles
var colCentres = [375, 904];

svg.selectAll('.colTitle')
    .data(colTitles)
    .enter()
    .append('text')
    .attr('class', 'colTitle')
    .attr('x', function(d, i) { return colCentres[i]; })
    .attr('y', 41)
    .attr('text-anchor', 'middle')
    .attr('font-size', 32.3)
    .attr('fill', '#111')
    .text(function(d) { return d; });

// x axis titles
svg.selectAll('.xTitle')
    .data([366, 896])
    .enter()
    .append('text')
    .attr('class', 'xTitle')
    .attr('x', function(d) { return d; })
    .attr('y', 1406)
    .attr('text-anchor', 'middle')
    .attr('font-size', 32.6)
    .attr('fill', '#111')
    .text('BEARING DISPLACEMENT (mm)');

// y axis title
svg.append('text')
    .attr('transform', 'translate(41,704) rotate(-90)')
    .attr('text-anchor', 'middle')
    .attr('font-size', 31)
    .attr('fill', '#111')
    .text('SINGLE BEARING SHEAR / WEIGHT');
</script>
</body>
</html>
